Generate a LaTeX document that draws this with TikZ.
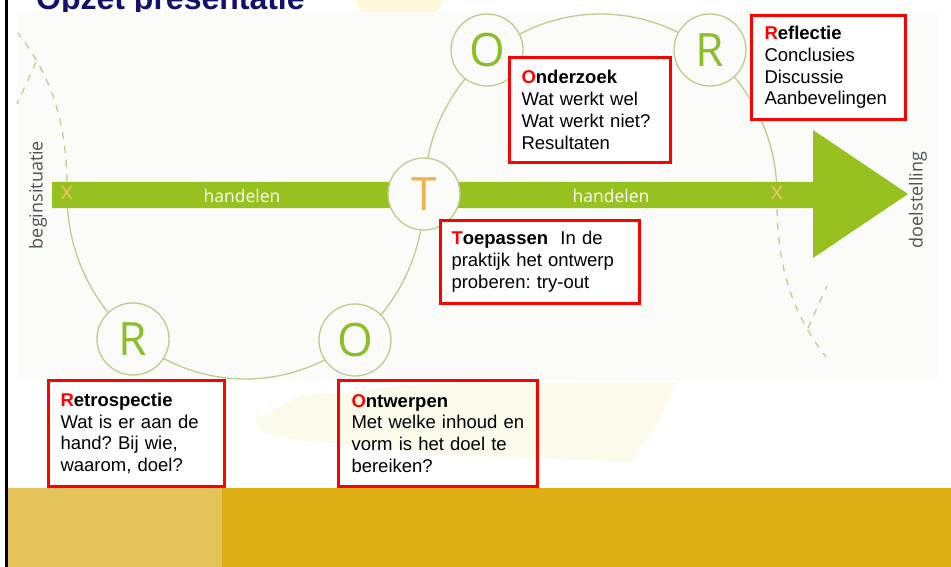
\documentclass[tikz,border=0pt]{standalone}
\usepackage{fontspec}
\newfontfamily\arialf{Liberation Sans}
\newfontfamily\opensf{Open Sans}
\frenchspacing
\definecolor{arrowgreen}{HTML}{97C11F}
\definecolor{circgreen}{HTML}{BACF8C}
\definecolor{lettergreen}{HTML}{8CBE2A}
\definecolor{tletter}{HTML}{F2B24E}
\definecolor{xmark}{HTML}{EEC264}
\definecolor{dashcol}{HTML}{C9CA8E}
\definecolor{sidetext}{HTML}{4A574D}
\definecolor{titleblue}{HTML}{12126E}
\definecolor{imgbg}{HTML}{FBFBFA}
\definecolor{faintyellow}{HTML}{FCFAEB}
\definecolor{topyellow}{HTML}{FEF7D8}
\definecolor{bandlight}{HTML}{E4C45A}
\definecolor{banddark}{HTML}{DCAE12}
\begin{document}
\begin{tikzpicture}[x=1pt,y=-1pt,
  loopline/.style={draw=circgreen, line width=1.3pt},
  dashline/.style={draw=dashcol, line width=1.3pt, dash pattern=on 7pt off 7pt},
  ring/.style={circle, draw=circgreen, line width=1.3pt, fill=imgbg, minimum size=72pt, inner sep=0pt,
    font=\opensf\fontsize{46}{46}\selectfont, text=lettergreen},
  xlabel/.style={font=\opensf\fontsize{24}{24}\selectfont, text=xmark, inner sep=0pt},
  handlabel/.style={font=\opensf\fontsize{17.5}{17.5}\selectfont, text=white, inner sep=0pt},
  sidelabel/.style={font=\opensf\fontsize{18}{18}\selectfont, text=sidetext, rotate=90, inner sep=0pt},
  infobox/.style={draw=red, line width=3pt, anchor=north west, align=left, inner ysep=0pt,
    font=\arialf\fontsize{18.5}{21.8}\selectfont, text=black}
]
\useasboundingbox (0,0) rectangle (951,567);
\fill[white] (0,0) rectangle (951,567);
% faint yellow background shapes
\fill[topyellow] (355,0) -- (443,0) -- (436,14) -- (362,14) -- cycle;
% title
\node[anchor=base west, inner sep=0pt, font=\arialf\bfseries\fontsize{32}{32}\selectfont, text=titleblue] (title) at (36,10) {Opzet presentatie};
% picture area
\fill[imgbg] (17,12) rectangle (937,380);
\fill[faintyellow] (255,420) -- (300,396) -- (420,384) -- (675,382) -- (660,420) -- (630,462) -- (450,455) -- (300,440) -- (262,432) -- cycle;
% bottom band
\fill[bandlight] (8,488) rectangle (222,567);
\fill[banddark] (222,488) rectangle (951,567);
% left border line
\draw[black, line width=3pt] (6.5,0) -- (6.5,567);
% loop
\draw[loopline] plot[domain=0:180, samples=120] ({245.5+178.5*cos(\x)},{195+184*sin(\x)});
\draw[loopline] plot[domain=180:360, samples=120] ({600.5+176.5*cos(\x)},{195+181*sin(\x)});
% dashed continuations
\draw[dashline] (67,195) .. controls (68,120) and (50,75) .. (18,33);
\draw[dashline] (36,62) .. controls (28,80) .. (17,104);
\draw[dashline] (777,195) .. controls (776,270) and (794,315) .. (826,357);
\draw[dashline] (808,328) .. controls (816,310) .. (827,286);
% arrow
\fill[arrowgreen] (52,182) -- (813,182) -- (813,130) -- (908,194) -- (813,258) -- (813,208) -- (52,208) -- cycle;
\node[handlabel] (hand1) at (242,196) {handelen};
\node[handlabel] (hand2) at (611,196) {handelen};
\node[xlabel] (x1) at (67,193) {x};
\node[xlabel] (x2) at (777,193) {x};
% side labels
\node[sidelabel] (begin) at (38,195) {beginsituatie};
\node[sidelabel] (doel) at (918,200) {doelstelling};
% circles
\node[ring, text=tletter] (cT) at (424,194) {T};
\node[ring] (cOtop) at (487,50) {O};
\node[ring] (cRtop) at (710,50) {R};
\node[ring] (cRbot) at (133,339) {R};
\node[ring] (cObot) at (355,340) {O};
% boxes
\node[infobox, fill=white, minimum width=161pt, minimum height=105pt, inner xsep=12pt, text width=137pt] (onderzoek) at (508,56)
  {\textbf{\textcolor{red}{O}nderzoek}\\Wat werkt wel\\Wat werkt niet?\\Resultaten};
\node[infobox, fill=white, minimum width=154pt, minimum height=104pt, inner xsep=13pt, text width=128pt] (reflectie) at (750,14)
  {\textbf{\textcolor{red}{R}eflectie}\\Conclusies\\Discussie\\Aanbevelingen};
\node[infobox, fill=white, minimum width=199pt, minimum height=83pt, inner xsep=11pt, text width=177pt] (toepassen) at (439,219)
  {\textbf{\textcolor{red}{T}oepassen}\ \ In de\\praktijk het ontwerp\\proberen: try-out};
\node[infobox, minimum width=176pt, minimum height=106pt, inner xsep=12pt, text width=152pt] (retro) at (47,379)
  {\textbf{\textcolor{red}{R}etrospectie}\\Wat is er aan de\\hand? Bij wie,\\waarom, doel?};
\node[infobox, minimum width=199pt, minimum height=106pt, inner xsep=13pt, text width=173pt] (ontwerpen) at (337,379)
  {\textbf{\textcolor{red}{O}ntwerpen}\\Met welke inhoud en\\vorm is het doel te\\bereiken?};
\end{tikzpicture}
\end{document}
